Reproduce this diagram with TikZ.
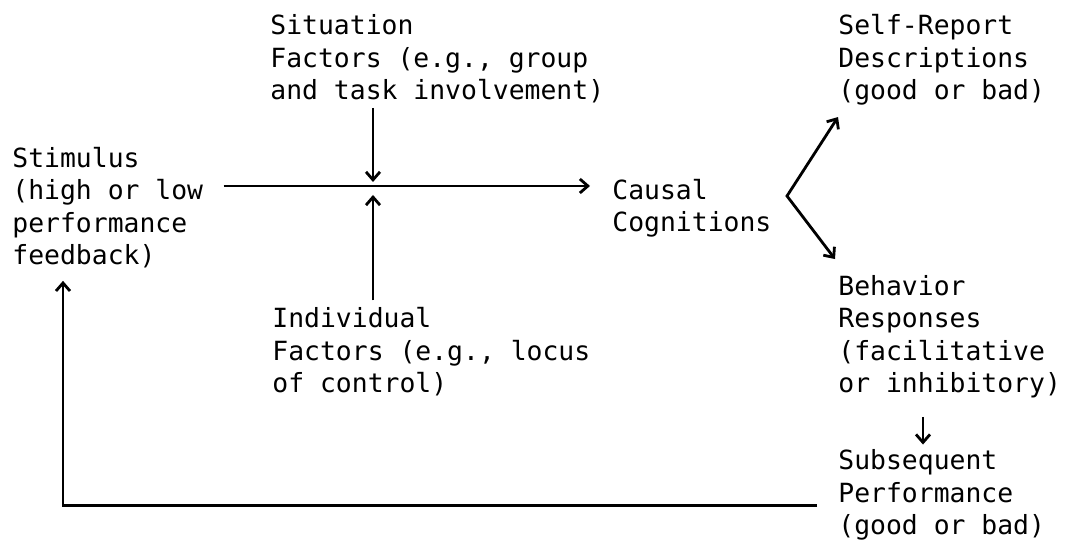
\documentclass[tikz,border=0pt]{standalone}
\usepackage{fontspec}
\setmonofont{DejaVu Sans Mono}
\usetikzlibrary{arrows.meta}

\begin{document}
\begin{tikzpicture}[x=0.5pt, y=-0.5pt,
                    box/.style = {anchor=base west, inner sep=0, align=left,
                                  font=\ttfamily\fontsize{13.2}{16.25}\selectfont},
                    arr/.style = {-{Straight Barb[length=4pt, width=7pt]}, line width=1.4pt}]
        \useasboundingbox (0,0) rectangle (1066,549);
        % anchors sit on the baseline of the last line
        \node[box] (stim) at (12,265) {Stimulus\\(high or low\\performance\\feedback)};
        \node[box] (sit) at (270,100) {Situation\\Factors (e.g., group\\and task involvement)};
        \node[box] (indiv) at (272,393) {Individual\\Factors (e.g., locus\\of control)};
        \node[box] (causal) at (612,232) {Causal\\Cognitions};
        \node[box] (self) at (838,100) {Self-Report\\Descriptions\\(good or bad)};
        \node[box] (behav) at (838,393) {Behavior\\Responses\\(facilitative\\or inhibitory)};
        \node[box] (subs) at (838,535) {Subsequent\\Performance\\(good or bad)};
        \coordinate (cross) at (373,186);
        \coordinate (fork) at (787,196);
        \draw[arr] ([xshift=10pt]stim.east |- cross) -- ([xshift=-11pt]causal.west |- cross);
        \draw[arr] ([yshift=-2pt]sit.south -| cross) -- ([yshift=2pt]cross);
        \draw[arr] ([yshift=3.5pt]indiv.north -| cross) -- ([yshift=-4.5pt]cross);
        \draw[arr, {Straight Barb[length=4pt, width=7pt]}-{Straight Barb[length=4pt, width=7pt]}] ([yshift=-5.5pt]self.south west) -- (fork) -- ([shift={(-1.5pt,8pt)}]behav.north west);
        \draw[arr] ([shift={(42.5pt,-9pt)}]behav.south west) -- ([shift={(42.5pt,2.5pt)}]subs.north west);
        \draw[arr] ([shift={(-10.5pt,-5pt)}]subs.west) -| ([shift={(25.5pt,-6pt)}]stim.south west);
    \end{tikzpicture}
\end{document}
